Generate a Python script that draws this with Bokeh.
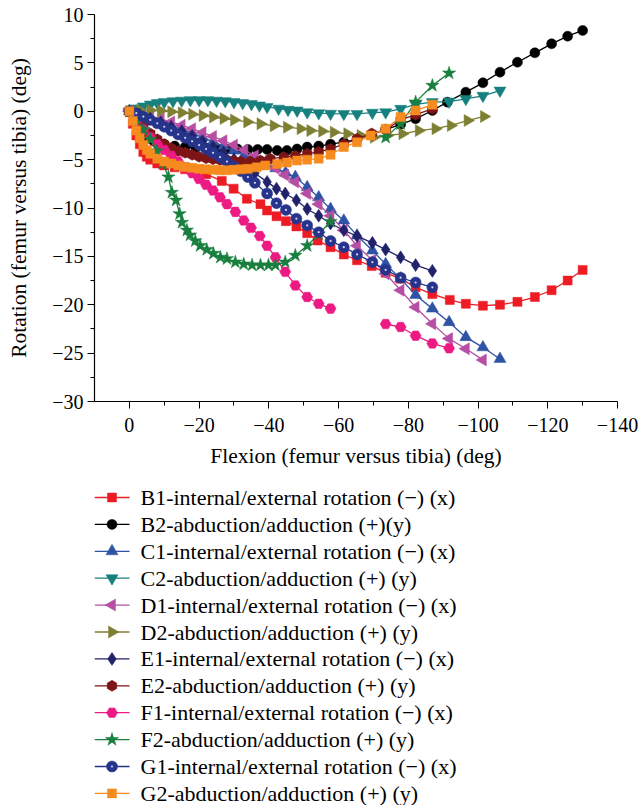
import math
from bokeh.plotting import figure
from bokeh.models import Range1d, FixedTicker, CustomJSTickFormatter
from bokeh.core.properties import value
from bokeh.layouts import column
from bokeh.embed import file_html
from bokeh.resources import INLINE

NaN = float("nan")

# ---------------- data ----------------
labels = [
    "B1-internal/external rotation (\u2212) (x)",
    "B2-abduction/adduction (+)(y)",
    "C1-internal/external rotation (\u2212) (x)",
    "C2-abduction/adduction (+) (y)",
    "D1-internal/external rotation (\u2212) (x)",
    "D2-abduction/adduction (+) (y)",
    "E1-internal/external rotation (\u2212) (x)",
    "E2-abduction/adduction (+) (y)",
    "F1-internal/external rotation (\u2212) (x)",
    "F2-abduction/adduction (+) (y)",
    "G1-internal/external rotation (\u2212) (x)",
    "G2-abduction/adduction (+) (y)",
]

b1_x = [0, -1, -2, -3, -4, -5, -6, -8, -10, -13, -16, -19, -22, -26.5, -29.9, -33.7, -37.6, -39.5, -42.2, -44.9,
        -47.9, -51, -54, -57.7, -61.5, -65.3, -69.5, -73.5, -77.8, -82.1, -86.9, -91.9, -96.5, -101.4, -106.3,
        -111.3, -116.3, -121.1, -125.7, -130]
b1_y = [0, -1.3, -2.5, -3.4, -4.2, -4.7, -5.0, -5.4, -5.6, -5.8, -6.0, -6.2, -6.5, -7.2, -8.0, -9.05, -9.6, -10.26,
        -10.85, -11.36, -11.9, -12.6, -13.36, -14.05, -14.8, -15.4, -16.0, -16.7, -17.3, -18.2, -18.9, -19.5, -19.9,
        -20.1, -20.0, -19.7, -19.2, -18.5, -17.5, -16.4]

b2_x = [0, -1.5, -3, -5, -7, -10, -13, -16, -19, -22, -25, -28, -31, -34, -36.8, -39.5, -42.4, -45.2, -48.1, -51,
        -54.3, -57.7, -61.5, -65.3, -69.5, -73.5, -77.8, -82.1, -86.9, -91.2, -96.5, -101.4, -106.3, -111.3,
        -116.3, -121.1, -125.7, -130]
b2_y = [0, -1.0, -2.0, -2.7, -3.1, -3.4, -3.6, -3.7, -3.75, -3.8, -3.85, -3.9, -3.9, -3.95, -3.95, -3.95, -4.05,
        -4.05, -3.9, -3.7, -3.6, -3.4, -3.2, -2.9, -2.4, -1.9, -1.35, -0.78, 0.08, 0.94, 1.97, 2.94, 4.04, 5.07,
        6.04, 6.97, 7.76, 8.35]

c1_x = [0, -3, -6, -9, -12, -15, -18, -21, -24, -27, -30, -33, -36, -39, -42, -44.8, -47.6, -51.0, -54.3, -57.7,
        -61.5, -65.3, -69.7, -73.5, -77.8, -82.1, -86.9, -91.7, -96.5, -101.4, -106.3]
c1_y = [0, -0.35, -0.7, -1.05, -1.45, -1.85, -2.25, -2.7, -3.15, -3.6, -4.05, -4.5, -5.0, -5.4, -5.9, -6.35, -6.8,
        -7.85, -8.9, -10.1, -11.3, -12.85, -14.4, -15.8, -17.3, -19.0, -20.4, -21.8, -23.35, -24.4, -25.6]

c2_x = [0, -2, -4, -6, -8, -10, -12.5, -15, -17.5, -20, -22.5, -25, -27.5, -30, -32.5, -35, -37.3, -39.5, -42.8,
        -45.5, -48.1, -51, -54.3, -57.7, -61.5, -65.3, -69.7, -73.5, -77.8, -82.1, -86.9, -91.7, -96.5, -101.4,
        -106.3]
c2_y = [0, 0.3, 0.5, 0.7, 0.85, 0.95, 1.05, 1.1, 1.15, 1.15, 1.15, 1.1, 1.05, 0.95, 0.85, 0.75, 0.6, 0.45, 0.27,
        0.15, 0.08, -0.1, -0.2, -0.25, -0.27, -0.27, -0.15, -0.1, 0.25, 0.7, 0.95, 1.0, 1.28, 1.6, 2.14]

d1_x = [0, -3, -6, -9, -12, -15, -18, -21, -24, -27, -30, -33, -36, -39, -42, -44.7, -47.6, -51.0, -54.3, -57.7,
        -61.5, -65.3, -69.7, -73.5, -77.8, -82.1, -86.9, -91.7, -96.5, -101.4]
d1_y = [0, -0.25, -0.5, -0.8, -1.1, -1.45, -1.8, -2.2, -2.6, -3.05, -3.5, -4.0, -4.6, -5.2, -5.9, -6.6, -7.3, -8.5,
        -9.6, -10.8, -12.3, -13.9, -15.4, -16.8, -18.5, -20.25, -21.97, -23.5, -24.55, -25.7]

d2_x = [0, -3, -6, -9, -12, -15, -18, -21, -24, -27, -30, -33.8, -37.6, -41.4, -45.2, -49.1, -51.9, -55.3, -58.6,
        -62.5, -66.3, -70.1, -74, -78.3, -83, -87.8, -92.2, -97, -101.7]
d2_y = [0, 0.1, 0.1, 0.05, -0.05, -0.15, -0.3, -0.45, -0.6, -0.75, -0.9, -1.1, -1.3, -1.5, -1.65, -1.8, -2.0,
        -2.06, -2.16, -2.33, -2.5, -2.7, -2.5, -2.33, -2.0, -1.8, -1.47, -0.96, -0.54]

e1_x = [0, -3, -6, -9, -12, -15, -18, -21, -24, -27, -30, -33, -36, -39.5, -42.2, -44.7, -47.9, -51, -54.3, -57.7,
        -61.5, -65.3, -69.7, -73.5, -77.8, -82.1, -86.9]
e1_y = [0, -0.35, -0.75, -1.15, -1.6, -2.05, -2.55, -3.1, -3.7, -4.3, -4.95, -5.65, -6.4, -7.3, -8.0, -8.5, -9.2,
        -10.1, -10.8, -11.6, -12.3, -12.9, -13.6, -14.3, -15.1, -15.9, -16.5]

e2_x = [0, -2, -4, -6, -8, -10, -12, -14, -16, -18, -20, -22, -24, -26, -28, -30, -32, -34.7, -37.6, -40.4, -44.3,
        -47.6, -51, -54.3, -57.7, -61.5, -65.3, -69.5, -73.5, -77.8, -82.1, -86.9]
e2_y = [0, -0.8, -1.6, -2.3, -2.9, -3.4, -3.8, -4.1, -4.3, -4.5, -4.7, -4.85, -4.95, -5.05, -5.1, -5.15, -5.2,
        -5.2, -5.1, -4.9, -4.75, -4.6, -4.4, -4.2, -3.9, -3.4, -2.85, -2.3, -1.9, -0.9, -0.35, 0.25]

f1_x = [0, -2, -4, -6, -8, -10, -12, -14, -16, -18, -20, -22, -24, -26, -28, -30.4, -32.8, -34.9, -37.4, -39.5,
        -41.9, -44.7, -47.6, -51, -54.3, -57.7, NaN, -73.5, -77.8, -82.1, -86.9, -91.7]
f1_y = [0, -1.0, -1.9, -2.7, -3.4, -4.0, -4.6, -5.2, -5.8, -6.4, -7.0, -7.6, -8.2, -8.9, -9.6, -10.4, -11.3,
        -12.05, -12.9, -13.9, -15.1, -16.6, -18.0, -19.2, -19.9, -20.4, NaN, -22.0, -22.3, -23.2, -24.0, -24.5]

f2_x = [0, -2, -4, -6, -7.9, -9.6, -11.2, -12.2, -13.4, -14.4, -15.1, -16.5, -17.4, -18.9, -20.3, -22.2, -24.1,
        -26.1, -28, -30.4, -32.8, -35.2, -37.6, -39.9, -41.9, -44.7, -47.6, -51, -54.3, -57.7, NaN, -73.5, -77.8,
        -82.1, -86.9, -91.7]
f2_y = [0, -0.9, -1.9, -2.9, -4.1, -5.4, -6.8, -8.4, -9.2, -10.6, -11.5, -12.3, -12.8, -13.4, -13.9, -14.3, -14.7,
        -15.1, -15.25, -15.6, -15.8, -15.9, -15.9, -15.9, -15.9, -15.6, -14.9, -13.9, -12.7, -11.4, NaN, -2.7,
        -1.3, 0.94, 2.66, 3.94]

g1_x = [0, -2, -4, -6, -8, -10, -12, -14, -16, -18, -20, -22, -24, -26, -28, -30, -32, -34, -36, -39.5, -42.2,
        -44.9, -47.9, -51, -54.3, -57.7, -61.5, -65.3, -69.7, -73.5, -77.8, -82.1, -86.9]
g1_y = [0, -0.2, -0.55, -0.9, -1.25, -1.6, -2.0, -2.4, -2.75, -3.1, -3.5, -3.9, -4.3, -4.75, -5.2, -5.7, -6.2,
        -6.8, -7.4, -8.5, -9.5, -10.2, -11.1, -11.8, -12.5, -13.4, -14.05, -14.8, -15.6, -16.4, -17.2, -17.7, -18.2]

g2_x = [0, -1, -2, -3, -4, -5, -6, -8, -10, -12, -14, -16, -18, -20, -22, -24, -26, -28, -30, -32, -34, -36.5,
        -39, -42.4, -45.2, -48.1, -51, -54.3, -57.7, -61.5, -65.3, -69.2, -73.5, -77.8, -82.1, -86.9]
g2_y = [0, -1.0, -2.0, -2.8, -3.5, -4.0, -4.4, -4.9, -5.2, -5.4, -5.6, -5.75, -5.85, -5.95, -6.0, -6.05, -6.1,
        -6.1, -6.05, -6.0, -5.95, -5.8, -5.6, -5.45, -5.3, -5.1, -5.0, -4.9, -4.5, -3.7, -3.2, -2.5, -1.8, -0.6,
        0.08, 0.67]

x_ticks = [0, -20, -40, -60, -80, -100, -120, -140]
x_minor = [-10, -30, -50, -70, -90, -110, -130]
y_ticks = [10, 5, 0, -5, -10, -15, -20, -25, -30]
y_minor = [7.5, 2.5, -2.5, -7.5, -12.5, -17.5, -22.5, -27.5]

# ---------------- styles ----------------
FONT = "Liberation Serif"
SPOT = "#D0D4EE"
series = [
    (b1_x, b1_y, "#ED1C24", "square", 9, 0),
    (b2_x, b2_y, "#000000", "circle", 10, 0),
    (c1_x, c1_y, "#2E52A4", "triangle", 12, 0),
    (c2_x, c2_y, "#16807F", "inverted_triangle", 12, 0),
    (d1_x, d1_y, "#B64FA3", "triangle", 12, math.pi / 2),
    (d2_x, d2_y, "#7E7F32", "triangle", 12, -math.pi / 2),
    (e1_x, e1_y, "#22226B", "diamond", 13, 0),
    (e2_x, e2_y, "#7D1517", "hex", 11, math.pi / 2),
    (f1_x, f1_y, "#EC1A82", "hex", 11, 0),
    (f2_x, f2_y, "#197F3E", "star", 14, 0),
    (g1_x, g1_y, "#27348B", "circle", 11, 0),
    (g2_x, g2_y, "#F68B1F", "square", 9, 0),
]

# ---------------- main plot ----------------
p = figure(width=638, height=481, output_backend="svg", toolbar_location=None,
           x_range=Range1d(10, -140), y_range=Range1d(-30, 10),
           min_border_left=94, min_border_right=21, min_border_top=14, min_border_bottom=80)
p.outline_line_color = None
p.grid.visible = False
p.background_fill_color = "white"
p.border_fill_color = "white"

for i, (xs, ys, col, mk, sz, ang) in enumerate(series):
    p.line(xs, ys, line_color=col, line_width=1.3)
    p.scatter(xs, ys, marker=mk, size=sz, angle=ang, fill_color=col, line_color=col, line_width=0.5)
    if i == 10:
        p.scatter(xs, ys, marker="circle", size=2.2, fill_color=SPOT, line_color=None)

minus_fmt = CustomJSTickFormatter(code="return (tick < 0) ? '\u2212' + Math.abs(tick) : String(tick);")

for ax in (p.xaxis[0], p.yaxis[0]):
    ax.axis_line_color = "black"
    ax.axis_line_width = 1.2
    ax.major_tick_line_color = "black"
    ax.minor_tick_line_color = "black"
    ax.major_tick_in = 0
    ax.major_tick_out = 7
    ax.minor_tick_in = 0
    ax.minor_tick_out = 4
    ax.major_label_text_font = FONT
    ax.major_label_text_font_size = "20px"
    ax.major_label_text_color = "black"
    ax.axis_label_text_font = FONT
    ax.axis_label_text_font_size = "21.5px"
    ax.axis_label_text_font_style = "normal"
    ax.axis_label_text_color = "black"
    ax.formatter = minus_fmt

p.xaxis[0].ticker = FixedTicker(ticks=x_ticks, minor_ticks=x_minor)
p.yaxis[0].ticker = FixedTicker(ticks=y_ticks, minor_ticks=y_minor)
p.xaxis[0].axis_label = "Flexion (femur versus tibia) (deg)"
p.yaxis[0].axis_label = "Rotation (femur versus tibia) (deg)"
p.xaxis[0].major_label_standoff = 9
p.xaxis[0].axis_label_standoff = 9
p.yaxis[0].major_label_standoff = 4
p.yaxis[0].axis_label_standoff = 18

# ---------------- legend panel (key drawn in pixel units of this panel) ----------------
LEG_H = 324
q = figure(width=638, height=LEG_H, output_backend="svg", toolbar_location=None,
           x_range=Range1d(94, 617), y_range=Range1d(0, LEG_H), x_axis_type=None, y_axis_type=None,
           min_border_left=94, min_border_right=21, min_border_top=0, min_border_bottom=0)
q.outline_line_color = None
q.grid.visible = False

ROW0, PITCH = 16, 26.9
KEY_X0, KEY_X1, TEXT_X = 94, 129, 140
row_y = [LEG_H - (ROW0 + i * PITCH) for i in range(len(labels))]

for i, (xs, ys, col, mk, sz, ang) in enumerate(series):
    yy = row_y[i]
    q.segment(x0=[KEY_X0], y0=[yy], x1=[KEY_X1], y1=[yy], line_color=col, line_width=1.3)
    q.scatter([(KEY_X0 + KEY_X1) / 2], [yy], marker=mk, size=sz, angle=ang,
              fill_color=col, line_color=col, line_width=0.5)
    if i == 10:
        q.scatter([(KEY_X0 + KEY_X1) / 2], [yy], marker="circle", size=2.2, fill_color=SPOT, line_color=None)

q.text(x=[TEXT_X] * len(labels), y=row_y, text=labels, text_baseline="middle", text_align="left",
       text_font=value(FONT), text_font_size="22px", text_color="black")

layout = column(p, q, spacing=0)

with open("out.html", "w", encoding="utf-8") as f:
    f.write(file_html(layout, INLINE))
